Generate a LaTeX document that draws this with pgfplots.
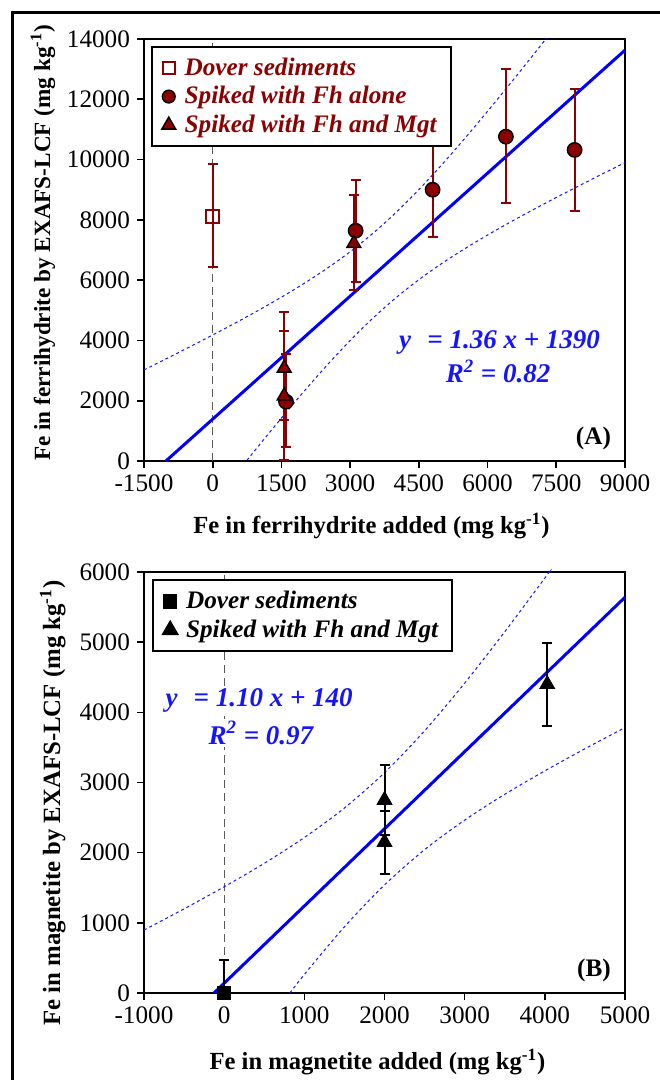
\documentclass[border=0pt]{standalone}
\usepackage{fontspec}
\setmainfont{Liberation Serif}
\usepackage{pgfplots}
\usepackage{pgfplotstable}
\pgfplotsset{compat=1.18}
\definecolor{dred}{RGB}{139,0,0}
\definecolor{eqblue}{RGB}{20,20,255}
\definecolor{vgray}{RGB}{90,90,90}

\pgfplotstableread{
x y ep em
0 8100 1740 1660
}\dovA
\pgfplotstableread{
x y ep em
1600 1970 1570 1516
3120 7640 1680 1690
4800 9000 1540 1560
6400 10760 2236 2210
7900 10320 2020 2020
}\fhA
\pgfplotstableread{
x y ep em
1560 3080 1870 1720
1560 2160 2150 2130
3080 7220 1600 1550
}\fmA
\pgfplotstableread{
x y ep em
0 0 470 0
}\dovB
\pgfplotstableread{
x y ep em
2000 2750 504 504
2000 2150 440 450
4030 4400 595 595
}\fmB

\pgfplotsset{myax/.style={scale only axis,
  axis line style={line width=0.8pt},
  tick align=outside, tick pos=left,
  major tick length=3.5pt,
  every tick/.style={black, line width=0.8pt},
  scaled x ticks=false, scaled y ticks=false,
  ticklabel style={font=\fontsize{12.6}{14}\selectfont},
  /pgf/number format/.cd, fixed, 1000 sep={}, assume math mode=true}}
\pgfplotsset{band/.style={eqblue, line width=0.5pt, dash pattern=on 1.5pt off 1.5pt},
  regl/.style={blue, line width=1.5pt},
  vdash/.style={vgray, line width=0.6pt, dash pattern=on 4pt off 2.4pt},
  legst/.style={draw=black, line width=1.1pt, fill=white,
    font=\fontsize{12.6}{14}\selectfont\bfseries\itshape,
    inner xsep=5pt, inner ysep=3.5pt, row sep=0pt, column sep=2.5pt}}
\newcommand\eqfont{\fontsize{13.5}{15}\selectfont\bfseries\itshape}

\begin{document}
\begin{tikzpicture}
\useasboundingbox (0,0) rectangle (329.5pt,-540pt);
\draw[line width=1.5pt] (6.25pt,-560pt) -- (6.25pt,-6.25pt) -- (340pt,-6.25pt);

% ---------------- Panel A
\begin{axis}[myax, at={(72pt,-230.5pt)}, anchor=south west,
  width=240.5pt, height=211pt,
  xmin=-1500, xmax=9000, ymin=0, ymax=14000,
  xtick={-1500,0,1500,3000,4500,6000,7500,9000},
  ytick={0,2000,4000,6000,8000,10000,12000,14000},
  legend style={legst, at={(0.014,0.984)}, anchor=north west, text=dred},
  legend cell align=left]
\addlegendimage{only marks, mark=square, mark size=3pt, mark options={draw=dred, fill=white, line width=1pt}}
\addlegendentry{Dover sediments}
\addlegendimage{only marks, mark=*, mark size=3.2pt, mark options={draw=black, fill=dred, line width=0.7pt}}
\addlegendentry{Spiked with Fh alone}
\addlegendimage{only marks, mark=triangle*, mark size=4pt, mark options={draw=black, fill=dred, line width=0.7pt}}
\addlegendentry{Spiked with Fh and Mgt}

\addplot[vdash, forget plot] coordinates {(0,0) (0,14000)};
\addplot[band, smooth, forget plot] coordinates {(-1500,3021) (-1000,3402) (-500,3788) (0,4181) (500,4584) (1000,5001) (1500,5435) (2000,5896) (2500,6394) (3000,6943) (3500,7556) (4000,8244) (4500,9004) (5000,9827) (5500,10698) (6000,11603) (6500,12532) (7000,13479) (7500,14438)};
\addplot[band, smooth, forget plot] coordinates {(500,-444) (1000,499) (1500,1425) (2000,2324) (2500,3186) (3000,3997) (3500,4744) (4000,5416) (4500,6016) (5000,6553) (5500,7042) (6000,7497) (6500,7928) (7000,8341) (7500,8742) (8000,9133) (8500,9519) (9000,9898)};
\addplot[regl, forget plot] coordinates {(-1022,0) (9000,13630)};

\addplot[only marks, mark=square, mark size=3.3pt, mark options={draw=dred, fill=white, line width=1pt, solid},
  error bars/.cd, y dir=both, y explicit,
  error bar style={dred, line width=1pt, solid},
  error mark options={rotate=90, mark size=2.5pt, dred, line width=1pt}]
  table[x=x, y=y, y error plus=ep, y error minus=em] {\dovA};
\addplot[only marks, mark=*, mark size=3.6pt, mark options={draw=black, fill=dred, line width=0.7pt},
  error bars/.cd, y dir=both, y explicit,
  error bar style={dred, line width=1pt},
  error mark options={rotate=90, mark size=2.5pt, dred, line width=1pt}]
  table[x=x, y=y, y error plus=ep, y error minus=em] {\fhA};
\addplot[only marks, mark=triangle*, mark size=4pt, mark options={draw=black, fill=dred, line width=0.7pt},
  error bars/.cd, y dir=both, y explicit,
  error bar style={dred, line width=1pt},
  error mark options={rotate=90, mark size=2.5pt, dred, line width=1pt}]
  table[x=x, y=y, y error plus=ep, y error minus=em] {\fmA};

\node[text=eqblue, font=\eqfont] at (axis cs:6262,3948) {y\hspace{0.6em}= 1.36 x + 1390};
\node[text=eqblue, font=\eqfont] at (axis cs:6229,2963) {R\textsuperscript{2} = 0.82};
\node[font=\fontsize{12.6}{14}\selectfont\bfseries] at (axis cs:8310,753) {(A)};
\end{axis}

% ---------------- Panel B
\begin{axis}[myax, at={(72pt,-496.5pt)}, anchor=south west,
  width=240.5pt, height=210.5pt, clip=false,
  xmin=-1000, xmax=5000, ymin=0, ymax=6000,
  xtick={-1000,0,1000,2000,3000,4000,5000},
  ytick={0,1000,2000,3000,4000,5000,6000},
  legend style={legst, at={(0.017,0.983)}, anchor=north west, text=black},
  legend cell align=left]
\addlegendimage{only marks, mark=square*, mark size=3pt, mark options={draw=black, fill=black}}
\addlegendentry{Dover sediments}
\addlegendimage{only marks, mark=triangle*, mark size=4pt, mark options={draw=black, fill=black}}
\addlegendentry{Spiked with Fh and Mgt}

\addplot[vdash, forget plot] coordinates {(0,0) (0,6000)};
\addplot[band, smooth, forget plot] coordinates {(-1000,897) (-500,1199) (0,1514) (500,1848) (1000,2216) (1500,2637) (2000,3140) (2500,3737) (3000,4416) (3500,5148) (4000,5914) (4055,6000)};
\addplot[band, smooth, forget plot] coordinates {(820,0) (1000,264) (1500,943) (2000,1540) (2500,2043) (3000,2464) (3500,2832) (4000,3166) (4500,3481) (5000,3783)};
\addplot[regl, forget plot] coordinates {(-127,0) (5000,5640)};

\node[fill=white, inner sep=1pt, text=eqblue, font=\eqfont] at (axis cs:436,4176) {y\hspace{0.6em}= 1.10 x + 140};
\node[fill=white, inner sep=1pt, text=eqblue, font=\eqfont] at (axis cs:458,3705) {R\textsuperscript{2} = 0.97};
\node[font=\fontsize{12.6}{14}\selectfont\bfseries] at (axis cs:4613,328) {(B)};

\addplot[only marks, mark=square*, mark size=3.3pt, mark options={draw=black, fill=black},
  error bars/.cd, y dir=both, y explicit,
  error bar style={black, line width=1pt},
  error mark options={rotate=90, mark size=2.5pt, black, line width=1pt}]
  table[x=x, y=y, y error plus=ep, y error minus=em] {\dovB};
\addplot[only marks, mark=triangle*, mark size=4.3pt, mark options={draw=black, fill=black},
  error bars/.cd, y dir=both, y explicit,
  error bar style={black, line width=1pt},
  error mark options={rotate=90, mark size=2.5pt, black, line width=1pt}]
  table[x=x, y=y, y error plus=ep, y error minus=em] {\fmB};
\end{axis}

% axis labels (pixel coords * 0.5pt)
\node[anchor=base, font=\fontsize{12.3}{14}\selectfont\bfseries] at (185.75pt,-266.5pt) {Fe in ferrihydrite added (mg kg\textsuperscript{-1})};
\node[anchor=base, rotate=90, font=\fontsize{11.6}{14}\selectfont\bfseries] at (25pt,-121.5pt) {Fe in ferrihydrite by EXAFS-LCF (mg kg\textsuperscript{-1})};
\node[anchor=base, font=\fontsize{12.3}{14}\selectfont\bfseries] at (188.75pt,-534.5pt) {Fe in magnetite added (mg kg\textsuperscript{-1})};
\node[anchor=base, rotate=90, font=\fontsize{12.4}{14}\selectfont\bfseries] at (30pt,-401.5pt) {Fe in magnetite by EXAFS-LCF (mg kg\textsuperscript{-1})};
\end{tikzpicture}
\end{document}
